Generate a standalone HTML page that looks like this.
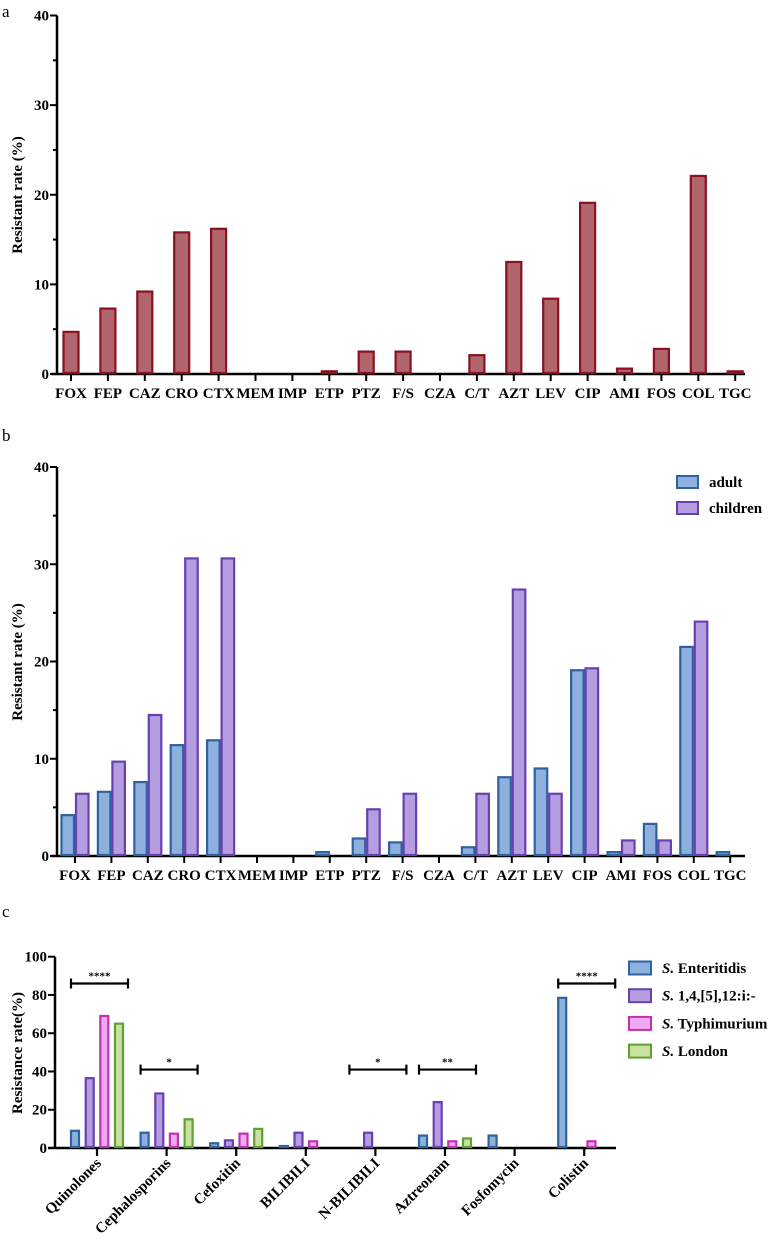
<!DOCTYPE html>
<html><head><meta charset="utf-8"><style>
body{margin:0;background:#fff}
svg{display:block;font-family:"Liberation Serif",serif}
.t{font-weight:bold;font-size:15px;fill:#000}
</style></head><body>
<svg id="s" width="774" height="1240" viewBox="0 0 774 1240" xmlns="http://www.w3.org/2000/svg">
<text x="2" y="17" font-size="17">a</text>
<text x="2" y="441" font-size="17">b</text>
<text x="2" y="917" font-size="17">c</text>
<g id="ga"></g>
<g id="gb"></g>
<g id="gc"></g>
</svg>
<script>
const drugs=["FOX","FEP","CAZ","CRO","CTX","MEM","IMP","ETP","PTZ","F/S","CZA","C/T","AZT","LEV","CIP","AMI","FOS","COL","TGC"];
const totalRates=[4.7,7.3,9.2,15.8,16.2,0,0,0.3,2.5,2.5,0,2.1,12.5,8.4,19.1,0.6,2.8,22.1,0.3];
const adultRates=[4.2,6.6,7.6,11.4,11.9,0,0,0.4,1.8,1.4,0,0.9,8.1,9.0,19.1,0.4,3.3,21.5,0.4];
const childRates=[6.4,9.7,14.5,30.6,30.6,0,0,0,4.8,6.4,0,6.4,27.4,6.4,19.3,1.6,1.6,24.1,0];
const yTicksAB=[0,10,20,30,40];
const classes=["Quinolones","Cephalosporins","Cefoxitin","BILIBILI","N-BILIBILI","Aztreonam","Fosfomycin","Colistin"];
const enteritidis=[9,8,2.5,1,0,6.5,6.5,78.5];
const monophasic=[36.5,28.5,4,8,8,24,0,0];
const typhimurium=[69,7.5,7.5,3.5,0,3.5,0,3.5];
const london=[65,15,10,0,0,5,0,0];
const yTicksC=[0,20,40,60,80,100];
const sigLabels=["****","*","*","**","****"];
const sigStart=[0,1,4,5,7];
const sigLevel=[86,41,41,41,86];

const NS="http://www.w3.org/2000/svg";
function el(p,tag,a){const e=document.createElementNS(NS,tag);for(const k in a)e.setAttribute(k,a[k]);p.appendChild(e);return e;}
function bar(g,x,y0,y1,w,fill,stroke,name){
  if(Math.abs(y0-y1)<0.01) return;
  const h=Math.max(Math.abs(y0-y1)-1,1);
  const r=el(g,'rect',{x:x+1,y:y0-1-h,width:w-2,height:h,fill:fill,stroke:stroke,'stroke-width':2.2});
  
  
}
function axisAB(g,ysc,x0,x1,ticks,minor,title,titleY){
  el(g,'line',{x1:x0,y1:ysc(0),x2:x0,y2:ysc(ticks[ticks.length-1]),stroke:'#000','stroke-width':2.5});
  el(g,'line',{x1:x0-6,y1:ysc(0),x2:x1,y2:ysc(0),stroke:'#000','stroke-width':2.5});
  const mx=ticks[ticks.length-1];
  for(let v=0;v<=mx;v+=minor){const maj=ticks.includes(v);
    el(g,'line',{x1:x0-(maj?7:4),y1:ysc(v),x2:x0,y2:ysc(v),stroke:'#000','stroke-width':2});}
  ticks.forEach(v=>{const t=el(g,'text',{x:x0-8,y:ysc(v)+5,'text-anchor':'end',class:'t'});t.textContent=v;
    
    });
  const tt=el(g,'text',{transform:`translate(22,${titleY}) rotate(-90)`,'text-anchor':'middle',class:'t','font-size':16});tt.textContent=title;
  
  
}
// Panel a
(function(){
  const g=document.getElementById('ga');
  const ysc=v=>374-v*(358.5/40), xs=i=>71+i*36.9;
  axisAB(g,ysc,57,745,yTicksAB,5,'Resistant rate (%)',195);
  drugs.forEach((d,i)=>{
    bar(g,xs(i)-8.5,ysc(0),ysc(totalRates[i]),17,'#b0666c','#8b1020','bar-'+d);
    el(g,'line',{x1:xs(i),y1:374,x2:xs(i),y2:381,stroke:'#000','stroke-width':2});
    const t=el(g,'text',{x:xs(i),y:398,'text-anchor':'middle',class:'t'});t.textContent=d;
    
    
  });
})();
// Panel b
(function(){
  const g=document.getElementById('gb');
  const ysc=v=>856-v*(389/40), xs=i=>75+i*36.4;
  axisAB(g,ysc,57,745,yTicksAB,5,'Resistant rate (%)',662);
  drugs.forEach((d,i)=>{
    bar(g,xs(i)-14.5,ysc(0),ysc(adultRates[i]),14.5,'#8db0dc','#2e62a0','bar-adult-'+d);
    bar(g,xs(i),ysc(0),ysc(childRates[i]),14.5,'#b49ee0','#6a40b0','bar-children-'+d);
    el(g,'line',{x1:xs(i),y1:856,x2:xs(i),y2:863,stroke:'#000','stroke-width':2});
    const t=el(g,'text',{x:xs(i),y:880,'text-anchor':'middle',class:'t'});t.textContent=d;
    
    
  });
  [['adult','#8db0dc','#2e62a0',482],['children','#b49ee0','#6a40b0',508]].forEach(l=>{
    const r=el(g,'rect',{x:677,y:l[3]-6,width:21,height:12,fill:l[1],stroke:l[2],'stroke-width':2});
    
    
    const t=el(g,'text',{x:709,y:l[3]+5,class:'t','font-size':16});t.textContent=l[0];
    
    
  });
})();
// Panel c
(function(){
  const g=document.getElementById('gc');
  const ysc=v=>1148-v*1.913, xs=i=>97+i*69.6;
  el(g,'line',{x1:55,y1:ysc(0),x2:55,y2:ysc(100),stroke:'#000','stroke-width':2.5});
  el(g,'line',{x1:48,y1:ysc(0),x2:616,y2:ysc(0),stroke:'#000','stroke-width':2.5});
  yTicksC.forEach(v=>{el(g,'line',{x1:48,y1:ysc(v),x2:55,y2:ysc(v),stroke:'#000','stroke-width':2});
    const t=el(g,'text',{x:47,y:ysc(v)+5,'text-anchor':'end',class:'t'});t.textContent=v;
    
    });
  const tt=el(g,'text',{transform:'translate(22,1053) rotate(-90)','text-anchor':'middle',class:'t','font-size':16});tt.textContent='Resistance rate(%)';
  
  
  const series=[[enteritidis,'#8db0dc','#2e62a0','enteritidis'],[monophasic,'#b49ee0','#6a40b0','monophasic'],[typhimurium,'#f0a8f0','#c030b0','typhimurium'],[london,'#c8e0a0','#60a030','london']];
  const off=[-22,-7.3,7.3,22];
  classes.forEach((c,i)=>{
    series.forEach((s,k)=>{ bar(g,xs(i)+off[k]-5,ysc(0),ysc(s[0][i]),10,s[1],s[2],'bar-'+s[3]+'-'+c); });
    el(g,'line',{x1:xs(i),y1:1148,x2:xs(i),y2:1156,stroke:'#000','stroke-width':2.2});
    const t=el(g,'text',{transform:`translate(${xs(i)+5},1164) rotate(-45)`,'text-anchor':'end',class:'t'});t.textContent=c;
    
    
  });
  sigLabels.forEach((s,j)=>{
    const i=sigStart[j], xa=xs(i)-26, xb=xs(i)+31, y=ysc(sigLevel[j]);
    const b=el(g,'path',{d:`M${xa},${y-5}V${y+5}M${xa},${y}H${xb}M${xb},${y-5}V${y+5}`,stroke:'#000','stroke-width':2.2,fill:'none'});
    
    
    const t=el(g,'text',{x:(xa+xb)/2,y:y-4,'text-anchor':'middle','font-size':11,'font-weight':'bold'});t.textContent=s;
    
    
  });
  const names=[' Enteritidis',' 1,4,[5],12:i:-',' Typhimurium',' London'];
  series.forEach((s,k)=>{
    const y=968+k*27.7;
    const r=el(g,'rect',{x:629,y:y-6.5,width:22,height:13,fill:s[1],stroke:s[2],'stroke-width':2});
    
    
    const t=el(g,'text',{x:662,y:y+5,class:'t','font-size':16});
    const it=el(t,'tspan',{'font-style':'italic'});it.textContent='S.';
    const rest=el(t,'tspan',{});rest.textContent=names[k];
    
    
  });
})();
</script>
</body></html>
